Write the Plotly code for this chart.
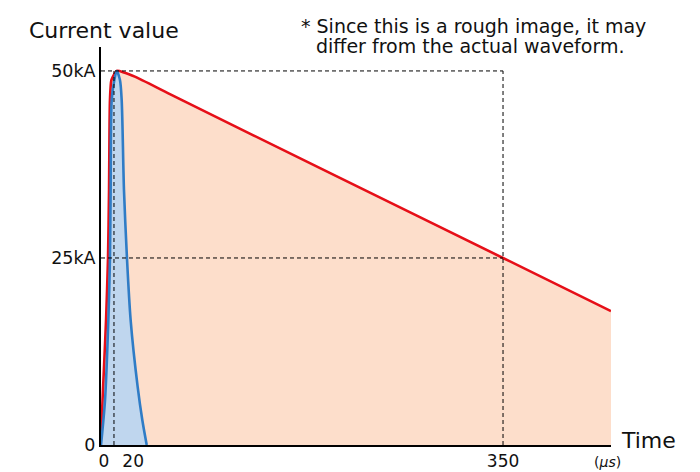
import plotly.graph_objects as go

# ---- data (time in microseconds, current in kA) ----
red_time = [0, 0.6, 2.9, 4.4, 6.1, 7.0, 7.4, 7.8, 9.1, 13.7, 20, 30, 60, 200, 350, 444]
red_current = [0, 3.3, 11.4, 16.7, 25.0, 34.1, 42.1, 46.1, 48.8, 50.0, 49.8, 49.2, 46.9, 36.3, 25.0, 17.9]

blue_time = [0, 3.5, 6.4, 7.8, 8.4, 9.3, 11.6, 13.7, 16.5, 18.0, 20.0, 22.6, 25.8, 31.9, 36.0, 39.8]
blue_current = [0, 6.0, 16.7, 25.0, 34.1, 46.1, 48.8, 50.0, 48.8, 46.1, 34.1, 25.0, 16.7, 7.8, 3.3, 0]

peak_current = 50
half_current = 25
half_time = 350
peak_marker_time = 11.3

x_tick_labels = ["0", "20", "350"]
x_tick_positions = [2.5, 28, 350]
y_tick_values = [0, 25, 50]
y_tick_labels = ["0", "25kA", "50kA"]

FONT = "DejaVu Sans"

fig = go.Figure()
fig.add_trace(go.Scatter(
    x=red_time, y=red_current, mode="lines", fill="tozeroy",
    fillcolor="#fddecb", line=dict(color="#e60f18", width=2.6, shape="spline", smoothing=0.6),
    hoverinfo="skip", showlegend=False))
fig.add_trace(go.Scatter(
    x=blue_time, y=blue_current, mode="lines", fill="tozeroy",
    fillcolor="#bfd6ee", line=dict(color="#2f7cc6", width=2.6, shape="spline", smoothing=0.8),
    hoverinfo="skip", showlegend=False))

dash = dict(color="black", width=1, dash="4px,3px")
fig.add_shape(type="line", x0=0, x1=half_time, y0=peak_current, y1=peak_current, line=dash, layer="above")
fig.add_shape(type="line", x0=0, x1=half_time, y0=half_current, y1=half_current, line=dash, layer="above")
fig.add_shape(type="line", x0=half_time, x1=half_time, y0=0, y1=peak_current, line=dash, layer="above")
fig.add_shape(type="line", x0=peak_marker_time, x1=peak_marker_time, y0=0, y1=peak_current, line=dash, layer="above")

fig.update_layout(
    width=700, height=472,
    margin=dict(l=101, r=89, t=47, b=27),
    paper_bgcolor="white", plot_bgcolor="white",
    font=dict(family=FONT, color="#111111", size=16),
    xaxis=dict(range=[0, 444], showgrid=False, zeroline=False, showline=True, automargin=False,
               linecolor="black", linewidth=2, tickvals=x_tick_positions,
               ticktext=x_tick_labels, ticks="", tickfont=dict(size=17, family=FONT)),
    yaxis=dict(range=[0, 53.2], showgrid=False, zeroline=False, showline=True, automargin=False,
               linecolor="black", linewidth=2, tickvals=y_tick_values,
               ticktext=y_tick_labels, ticks="", tickfont=dict(size=17.5, family=FONT)),
    annotations=[
        dict(text="Current value", xref="paper", yref="paper", x=(27 - 101) / 510,
             y=(445 - 30.5) / 398, xanchor="left", yanchor="middle", showarrow=False,
             font=dict(size=22, family=FONT)),
        dict(text="* Since this is a rough image, it may", xref="paper", yref="paper",
             x=(299 - 101) / 510, y=(445 - 26) / 398, xanchor="left", yanchor="middle",
             showarrow=False, font=dict(size=19, family=FONT)),
        dict(text="differ from the actual waveform.", xref="paper", yref="paper",
             x=(314 - 101) / 510, y=(445 - 46) / 398, xanchor="left", yanchor="middle",
             showarrow=False, font=dict(size=19, family=FONT)),
        dict(text="Time", xref="paper", yref="paper", x=(619 - 101) / 510,
             y=(445 - 440) / 398, xanchor="left", yanchor="middle", showarrow=False,
             font=dict(size=22, family=FONT)),
        dict(text="(<i>μs</i>)", xref="paper", yref="paper", x=(592 - 101) / 510,
             y=(445 - 462) / 398, xanchor="left", yanchor="middle", showarrow=False,
             font=dict(size=14, family=FONT)),
    ],
)

fig.write_html("out.html", config={"displayModeBar": False},
               post_script="document.body.style.margin='0';")
